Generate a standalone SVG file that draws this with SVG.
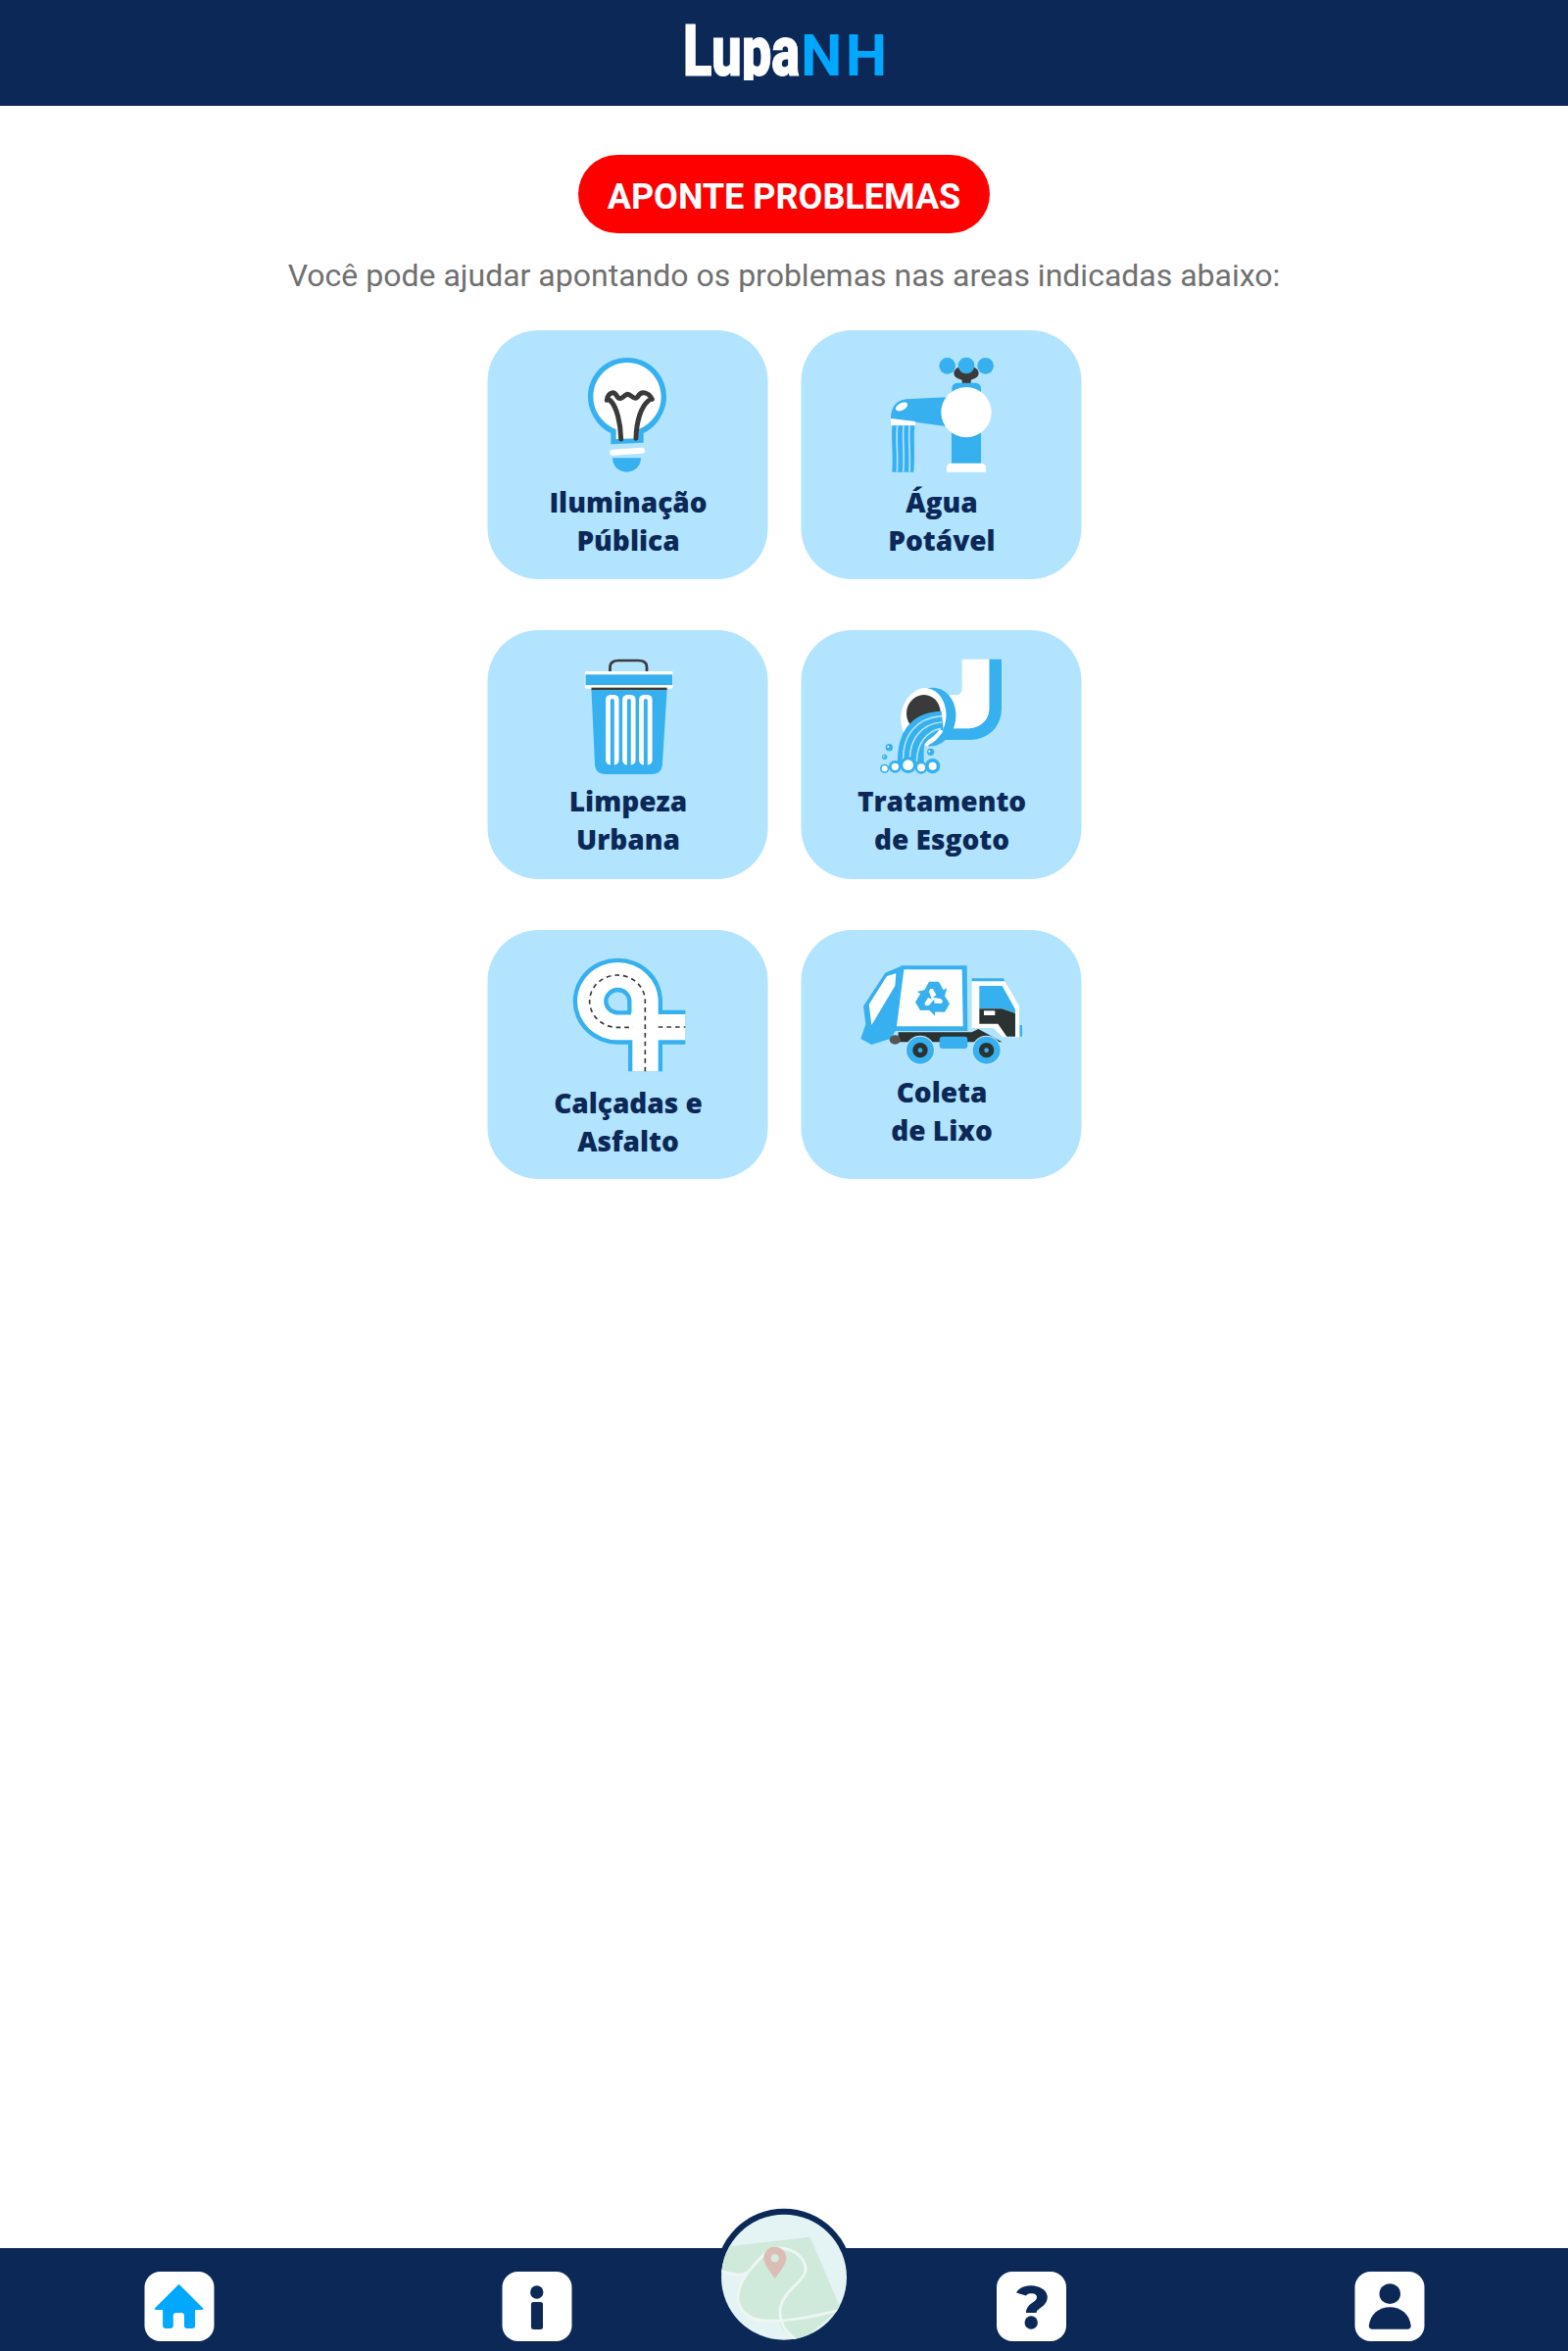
<svg xmlns="http://www.w3.org/2000/svg" width="1600" height="2399" viewBox="0 0 1600 2399">
<style>
.bar{fill:#0b2857}
.card{fill:#b2e3ff}
.lbl{font-family:"Open Sans","Noto Sans",sans-serif;font-weight:800;font-size:28px;fill:#0b2857;text-anchor:middle}
.b{fill:#36b0ee}
.w{fill:#fff}
.d{fill:#3a3a3a}
.nav{fill:#fff}
.ic{fill:#0b2857}
</style>
<defs>
<clipPath id="mapClip"><circle cx="240" cy="251" r="192"/></clipPath>
<clipPath id="logoClip"><rect x="-10" y="-60" width="180" height="65"/></clipPath>
<path id="rc" d="M-30,-18 L-12,-52 H18 L32,-26 L43,-32 L33,2 L0,-4 L10,-11 L0,-30 L-8,-30 L-18,-10 Z"/>
</defs>
<rect width="1600" height="2399" fill="#fff"/>
<g id="header">
<rect class="bar" width="1600" height="108"/>
<g transform="translate(697 77) scale(.735 1)">
<g clip-path="url(#logoClip)">
<text x="0" y="0" font-family="Roboto,sans-serif" font-weight="900" font-size="72" fill="#fff" stroke="#fff" stroke-width="1" textLength="162" lengthAdjust="spacingAndGlyphs">Lupa</text>
</g>
</g>
<text x="817" y="77" font-family="Roboto,sans-serif" font-weight="700" font-size="60" fill="#00a8ff" textLength="88">NH</text>
</g>
<g id="title">
<rect x="590" y="158" width="420" height="80" rx="40" fill="#ff0000"/>
<text x="800" y="213" text-anchor="middle" font-family="Roboto,sans-serif" font-weight="700" font-size="36" fill="#fff">APONTE PROBLEMAS</text>
<text x="800" y="292" text-anchor="middle" font-family="Roboto,sans-serif" font-size="32" fill="#707070">Você pode ajudar apontando os problemas nas areas indicadas abaixo:</text>
</g>
<g id="card-iluminacao">
<rect class="card" x="497.5" y="337" width="286" height="254" rx="52"/>
<g transform="translate(580 350) scale(.3333)">
<path class="b" d="M130,310 V276 C85,255 60,205 60,165 C60,98 113,45 180,45 C247,45 300,98 300,165 C300,205 275,255 230,276 V305 Z"/>
<path class="w" d="M146,294 V265 C100,245 76,205 76,165 C76,107 122,60 180,60 C238,60 284,107 284,165 C284,205 260,245 214,265 V292 Z"/>
<path d="M118,175 C122,150 140,145 150,165 C160,178 170,160 180,157 C192,155 200,178 212,165 C222,145 245,150 256,172 M128,176 C148,195 160,245 161,294 M246,176 C222,195 208,240 207,292" fill="none" stroke="#3a3a3a" stroke-width="15" stroke-linejoin="round" stroke-linecap="round"/>
<path d="M135,335 L225,329" stroke="#fff" stroke-width="18" stroke-linecap="round"/>
<path class="b" d="M135,352 H222 C222,378 202,395 178,395 C155,395 135,378 135,352 Z"/>
</g>
<text class="lbl" x="641" y="523">Iluminação</text>
<text class="lbl" x="641" y="562">Pública</text>
</g>
<g id="card-agua">
<rect class="card" x="817.5" y="337" width="286" height="254" rx="52"/>
<g transform="translate(860 350) scale(.3333)">
<rect class="d" x="365" y="100" width="27" height="28"/>
<ellipse class="d" cx="378" cy="92" rx="38" ry="23"/>
<circle class="b" cx="320" cy="70" r="25"/><circle class="b" cx="437" cy="70" r="25"/><circle class="b" cx="378" cy="69" r="25"/>
<rect class="b" x="334" y="122" width="89" height="40" rx="16"/>
<rect class="b" x="333" y="260" width="90" height="115"/>
<path class="w" d="M318,395 V382 Q318,368 332,368 H424 Q438,368 438,382 V395 Z"/>
<path class="b" d="M320,166 L195,172 C165,175 147,195 147,232 L222,242 L320,256 Z"/>
<path class="w" d="M147,231 L222,240 V253 L147,251 Z"/>
<ellipse class="w" cx="180" cy="195" rx="20" ry="11" transform="rotate(-28 180 195)"/>
<circle class="w" cx="378" cy="212" r="77"/>
<path class="b" d="M151,253 H220 C216,290 222,340 217,395 H151 C155,345 148,300 151,253 Z"/>
<path d="M167,253 C162,300 170,340 166,395 M186,253 C182,300 190,340 185,395 M204,253 C200,300 208,340 204,395" fill="none" stroke="#b2e3ff" stroke-width="5"/>
</g>
<text class="lbl" x="961" y="523">Água</text>
<text class="lbl" x="961" y="562">Potável</text>
</g>
<g id="card-limpeza">
<rect class="card" x="497.5" y="643" width="286" height="254" rx="52"/>
<g transform="translate(490 630) scale(.3954 .3333)">
<path d="M335,167 V152 Q335,132 358,132 H408 Q430,132 430,152 V167" fill="none" stroke="#3a3a3a" stroke-width="7"/>
<rect class="w" x="270" y="165" width="227" height="53" rx="4"/>
<rect class="b" x="272" y="175" width="224" height="32"/>
<rect class="d" x="287" y="215" width="195" height="8"/>
<path class="b" d="M287,223 H482 L470,452 Q468,480 440,480 H325 Q298,480 296,452 Z"/>
<g class="w">
<rect x="324" y="237" width="34" height="215" rx="14"/>
<rect x="367" y="237" width="34" height="215" rx="14"/>
<rect x="410" y="237" width="34" height="215" rx="14"/>
</g>
<g class="b">
<rect x="336" y="250" width="10" height="206" rx="4"/>
<rect x="379" y="250" width="10" height="206" rx="4"/>
<rect x="422" y="250" width="10" height="206" rx="4"/>
</g>
</g>
<text class="lbl" x="641" y="828">Limpeza</text>
<text class="lbl" x="641" y="867">Urbana</text>
</g>
<g id="card-esgoto">
<rect class="card" x="817.5" y="643" width="286" height="254" rx="52"/>
<g transform="translate(880 660) scale(.3333)">
<path class="b" d="M388,38 H426 V190 C426,245 385,285 325,285 H245 V250 H320 C365,250 388,220 388,190 Z"/>
<path class="w" d="M305,38 H388 V190 C388,225 360,250 320,250 H270 L262,148 H285 C298,148 305,140 305,125 Z"/>
<ellipse class="b" cx="212" cy="215" rx="74" ry="90" transform="rotate(8 212 215)"/>
<ellipse class="w" cx="187" cy="215" rx="69" ry="89" transform="rotate(8 187 215)"/>
<ellipse class="d" cx="187" cy="203" rx="52" ry="56" transform="rotate(8 187 203)"/>
<path class="b" d="M108,358 C105,260 150,200 242,197 L248,255 C232,272 192,280 188,312 V358 Z"/>
<path d="M125,352 C122,270 165,218 243,212 M145,352 C143,285 180,235 243,231 M166,352 C166,300 195,258 240,250" fill="none" stroke="#b2e3ff" stroke-width="5"/>
<path d="M242,255 C228,280 205,285 195,302" fill="none" stroke="#fff" stroke-width="12"/>
<g class="b"><circle cx="68" cy="373" r="14"/><circle cx="100" cy="367" r="19"/><circle cx="140" cy="362" r="25"/><circle cx="180" cy="370" r="19"/><circle cx="215" cy="365" r="23"/><circle cx="82" cy="308" r="11"/><circle cx="68" cy="337" r="8"/><circle cx="209" cy="322" r="11"/></g>
<g class="w"><circle cx="68" cy="373" r="9"/><circle cx="100" cy="367" r="11"/><circle cx="140" cy="362" r="16"/><circle cx="180" cy="370" r="12"/><circle cx="215" cy="365" r="12"/><circle cx="79" cy="306" r="3"/><circle cx="66" cy="336" r="2.5"/><circle cx="205" cy="320" r="3"/></g>
</g>
<text class="lbl" x="961" y="828">Tratamento</text>
<text class="lbl" x="961" y="867">de Esgoto</text>
</g>
<g id="card-calcadas">
<rect class="card" x="497.5" y="949" width="286" height="254" rx="52"/>
<g transform="translate(570 970) scale(.3333)">
<path class="b" d="M213,370 V287 H180 A137,132 0 1 1 318,155 V182 H388 V287 H318 V370 Z"/>
<path class="w" d="M226,370 V274 H180 A124,119 0 1 1 305,155 V195 H388 V274 H305 V370 Z"/>
<path d="M222,190 H180 A36,35 0 1 1 217,155 V190 Z" fill="#b2e3ff" stroke="#36b0ee" stroke-width="13"/>
<path d="M265,370 V155 A85,80 0 1 0 180,235 H228 M305,234 H388" fill="none" stroke="#3a3a3a" stroke-width="5" stroke-dasharray="14 12"/>
</g>
<text class="lbl" x="641" y="1136">Calçadas e</text>
<text class="lbl" x="641" y="1175">Asfalto</text>
</g>
<g id="card-coleta">
<rect class="card" x="817.5" y="949" width="286" height="254" rx="52"/>
<g transform="translate(870 970) scale(.3333)">
<path d="M140,250 H365 L385,240 L458,280 H140 Z" fill="#2b3332"/>
<path class="w" d="M365,92 H465 L510,170 V265 H460 L430,237 H365 Z"/>
<path class="b" d="M365,85 H462 L466,94 H365 Z"/>
<path class="b" d="M388,108 H458 L498,180 V192 L460,178 H388 Z"/>
<path d="M388,178 H458 L498,192 V263 H472 L445,224 H388 Z" fill="#2b3332"/>
<rect class="w" x="402" y="184" width="34" height="14"/>
<rect class="b" x="512" y="228" width="7" height="35"/>
<path class="b" d="M100,68 L148,48 L132,245 L115,270 L58,288 L25,270 L40,225 L33,170 Z"/>
<path class="w" d="M105,78 L133,70 L130,108 L58,228 L50,165 Z"/>
<path class="b" d="M148,46 H350 L352,246 H130 Z"/>
<path class="w" d="M157,58 H335 L338,232 H135 Z"/>
<g transform="translate(246 147)" class="b">
<use href="#rc"/>
<use href="#rc" transform="rotate(120)"/>
<use href="#rc" transform="rotate(240)"/>
</g>
<ellipse cx="130" cy="273" rx="17" ry="14" fill="#555"/>
<rect class="b" x="266" y="263" width="86" height="37" rx="10"/>
<g>
<circle cx="207" cy="305" r="45" fill="#cfeaf8"/><circle class="b" cx="207" cy="305" r="42"/><circle cx="207" cy="305" r="23" fill="#2b3332"/><circle class="b" cx="207" cy="305" r="7"/>
<circle cx="410" cy="305" r="45" fill="#cfeaf8"/><circle class="b" cx="410" cy="305" r="42"/><circle cx="410" cy="305" r="23" fill="#2b3332"/><circle class="b" cx="410" cy="305" r="7"/>
</g>
</g>
<text class="lbl" x="961" y="1125">Coleta</text>
<text class="lbl" x="961" y="1164">de Lixo</text>
</g>
<g id="footer">
<rect class="bar" y="2294" width="1600" height="105"/>
</g>
<g id="nav-home">
<rect class="nav" x="147.5" y="2318" width="71" height="71" rx="16"/>
<g transform="translate(100 2240) scale(.4464 .3333)">
<path fill="#00a8ff" d="M185,272 L241,347 Q241,351 236,351 H222 V400 Q222,408 214,408 H205 Q197,408 197,400 V368 Q197,360 190,360 H179 Q172,360 172,368 V400 Q172,408 164,408 H156 Q148,408 148,400 V351 H134 Q129,351 129,347 Z"/>
</g>
</g>
<g id="nav-info">
<rect class="nav" x="512.5" y="2318" width="71" height="71" rx="16"/>
<g transform="translate(100 2240) scale(.4464 .3333)">
<ellipse class="ic" cx="1003" cy="297" rx="15" ry="20"/>
<rect class="ic" x="990" y="327" width="27" height="84" rx="6"/>
</g>
</g>
<g id="nav-map">
<g transform="translate(720 2240) scale(.3333)">
<circle class="bar" cx="240" cy="251" r="210"/>
<g clip-path="url(#mapClip)">
<rect width="480" height="477" fill="#e4f3f4"/>
<path fill="#cfe9da" d="M30,162 L320,128 L412,345 L290,450 L270,440 C240,420 225,400 228,385 L170,385 C120,380 100,340 100,310 C100,280 120,250 135,235 C100,250 70,240 30,228 Z"/>
<g fill="none" stroke="#eef6f3" stroke-width="9">
<path d="M40,230 C80,245 115,248 130,235 C150,215 170,180 200,168 C215,160 235,162 250,166 C290,175 310,210 305,235 C295,270 235,295 228,350 C226,390 245,420 275,442"/>
<path d="M130,235 C105,270 95,300 100,325 C110,370 150,385 200,385 C270,385 340,370 415,350"/>
</g>
</g>
<path fill="#dcbdb5" d="M212,255 C195,230 178,212 178,192 C178,172 194,158 212,158 C231,158 247,172 247,192 C247,212 230,230 212,255 Z"/>
<circle cx="212" cy="193" r="12" fill="#d5ebde"/>
</g>
</g>
<g id="nav-help">
<rect class="nav" x="1017" y="2318" width="71" height="71" rx="16"/>
<g transform="translate(800 2240) scale(.4464 .3333)">
<path d="M542,303 C552,280 592,285 590,315 C588,340 565,335 565,360" fill="none" stroke="#0b2857" stroke-width="24"/>
<ellipse class="ic" cx="565" cy="390" rx="15" ry="20"/>
</g>
</g>
<g id="nav-profile">
<rect class="nav" x="1382.5" y="2318" width="71" height="71" rx="16"/>
<g transform="translate(800 2240) scale(.4464 .3333)">
<ellipse class="ic" cx="1385" cy="302" rx="24" ry="31"/>
<path class="ic" d="M1337,400 C1340,365 1360,343 1385,343 C1410,343 1430,365 1433,400 Q1433,410 1425,410 H1345 Q1337,410 1337,400 Z"/>
</g>
</g>
</svg>
